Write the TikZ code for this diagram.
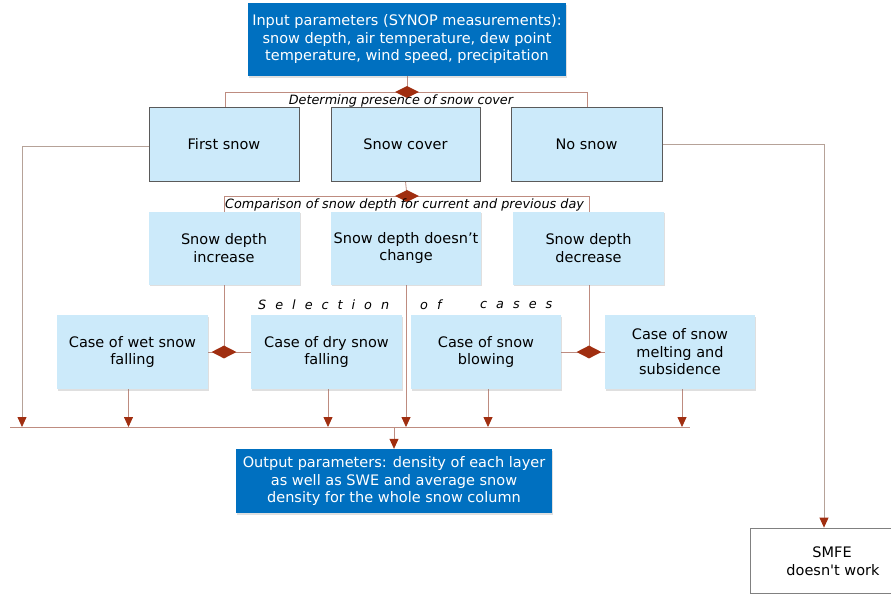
\documentclass[tikz,border=0pt]{standalone}
\usepackage{fontspec}
\setmainfont{DejaVu Sans}
\newfontfamily\plainfont{DejaVu Sans}[Ligatures=TeXOff]
\usetikzlibrary{arrows.meta,shapes.geometric,shadows,calc}
\definecolor{lineC}{RGB}{190,140,128}
\definecolor{greyLineC}{RGB}{182,162,152}
\definecolor{arrC}{RGB}{160,46,16}
\definecolor{boxfill}{RGB}{204,234,250}
\definecolor{boxborder}{RGB}{90,90,90}
\definecolor{blueC}{RGB}{0,112,192}
\definecolor{smfeC}{RGB}{128,128,128}
\pgfdeclarelayer{bg}
\pgfsetlayers{bg,main}
\newcommand\lsp{\hspace{9pt}}
\begin{document}
\begin{tikzpicture}[x=1pt,y=-1pt,
  boxfont/.style={font=\fontsize{14.5}{17.5}\selectfont},
  topbox/.style={draw=boxborder, line width=0.8pt, fill=boxfill, minimum height=74pt, inner sep=2pt, align=center, boxfont},
  lbox/.style={fill=boxfill, drop shadow={shadow xshift=1pt, shadow yshift=-1.5pt, opacity=0.25}, minimum height=73pt, inner sep=2pt, align=center, boxfont},
  bluebox/.style={fill=blueC, text=white, drop shadow={shadow xshift=1pt, shadow yshift=-1.5pt, opacity=0.25}, inner sep=2pt, align=center, boxfont},
  dmd/.style={diamond, fill=arrC, inner sep=0pt, minimum width=25pt, minimum height=13pt},
  conn/.style={draw=lineC, line width=0.8pt},
  arr/.style={conn, -{Triangle[width=9pt,length=10pt,color=arrC]}},
  lab/.style={font=\fontsize{12.8}{15}\selectfont\itshape, inner sep=0pt}
]
\useasboundingbox (0,0) rectangle (891,595);

% top input
\node[bluebox, minimum width=318pt, minimum height=73pt] (inp) at (407,39.5)
  {Input parameters (SYNOP measurements):\\snow depth, air temperature, dew point\\temperature, wind speed, precipitation};

% first level
\node[topbox, minimum width=150pt] (fs) at (224,144) {First snow};
\node[topbox, minimum width=149pt] (sc) at (405.5,144) {Snow cover};
\node[topbox, minimum width=151pt] (ns) at (586.5,144) {No snow};

% second level
\node[lbox, minimum width=151pt] (sdi) at (224,248) {Snow depth\\increase};
\node[lbox, minimum width=150pt] (dnc) at (406,248) {Snow depth doesn’t\\change};
\node[lbox, minimum width=151pt] (sdd) at (588.5,248) {Snow depth\\decrease};

% third level
\node[lbox, minimum width=151pt, minimum height=74pt] (wet) at (132.5,352) {Case of wet snow\\falling};
\node[lbox, minimum width=151pt, minimum height=74pt] (dry) at (326.5,352) {Case of dry snow\\falling};
\node[lbox, minimum width=150pt, minimum height=74pt] (blow) at (486,352) {Case of snow\\blowing};
\node[lbox, minimum width=150pt, minimum height=74pt] (melt) at (680,352) {Case of snow\\melting and\\subsidence};

% output
\node[bluebox, minimum width=316pt, minimum height=64pt] (out) at (394,481)
  {Output parameters: density of each layer\\as well as SWE and average snow\\density for the whole snow column};

% SMFE
\node[draw=smfeC, line width=0.8pt, fill=white, minimum width=148pt, minimum height=65pt, inner sep=0pt] (smfe) at (824,560.5) {};
\node[align=left, boxfont, inner sep=0pt] (smfetxt) at (833,561) {\plainfont\hspace*{26pt}SMFE\\\plainfont doesn't work};

% diamonds
\node[dmd, minimum width=24pt, minimum height=12pt] (d1) at (407,92) {};
\node[dmd, minimum width=24pt, minimum height=12pt] (d2) at (407,196) {};
\node[dmd] (d3) at (224,352) {};
\node[dmd] (d4) at (589,352) {};

% labels
\node[lab] (l1) at (401,101) {Determing presence of snow cover};
\node[lab] (l2) at (404.5,205) {Comparison of snow depth for current and previous day};
\node[lab, anchor=west] (l3a) at (258,305) {S\lsp e\lsp l\lsp e\lsp c\lsp t\lsp i\lsp o\lsp n};
\node[lab, anchor=west] (l3b) at (420,305) {o\lsp f};
\node[lab, anchor=west] (l3c) at (480,305) {c\lsp a\lsp s\lsp e\lsp s};

\coordinate (b1L) at (225,92);
\coordinate (b1R) at (587,92);
\coordinate (busL) at (10,427);
\coordinate (busR) at (690,427);
\coordinate (leftX) at (22,427);

\begin{pgfonlayer}{bg}
  \draw[conn] (inp.south) -- (d1.center);
  \draw[conn] (b1L |- fs.north) -- (b1L) -- (b1R) -- (b1R |- ns.north);
  \draw[conn] (sc.south) -- (d2.center);
  \draw[conn] (d3.center) -- (d3.center |- d2.center) -- (d4.center |- d2.center) -- (d4.center);
  \draw[conn] (wet.east) -- (dry.west);
  \draw[conn] (blow.east) -- (melt.west);
  \draw[conn] (busL) -- (busR);
  \draw[arr, draw=greyLineC] ([yshift=-2pt]fs.west) -| (leftX);
  \draw[arr, draw=greyLineC] (ns.east) -| (smfe.north);
  \draw[arr] (dnc.south) -- (dnc.south |- busL);
  \draw[arr] ([xshift=-4pt]wet.south) -- ([xshift=-4pt]wet.south |- busL);
  \draw[arr] ([xshift=1.5pt]dry.south) -- ([xshift=1.5pt]dry.south |- busL);
  \draw[arr] ([xshift=2pt]blow.south) -- ([xshift=2pt]blow.south |- busL);
  \draw[arr] ([xshift=2pt]melt.south) -- ([xshift=2pt]melt.south |- busL);
  \draw[arr] (out.north |- busL) -- (out.north);
\end{pgfonlayer}
\end{tikzpicture}
\end{document}
